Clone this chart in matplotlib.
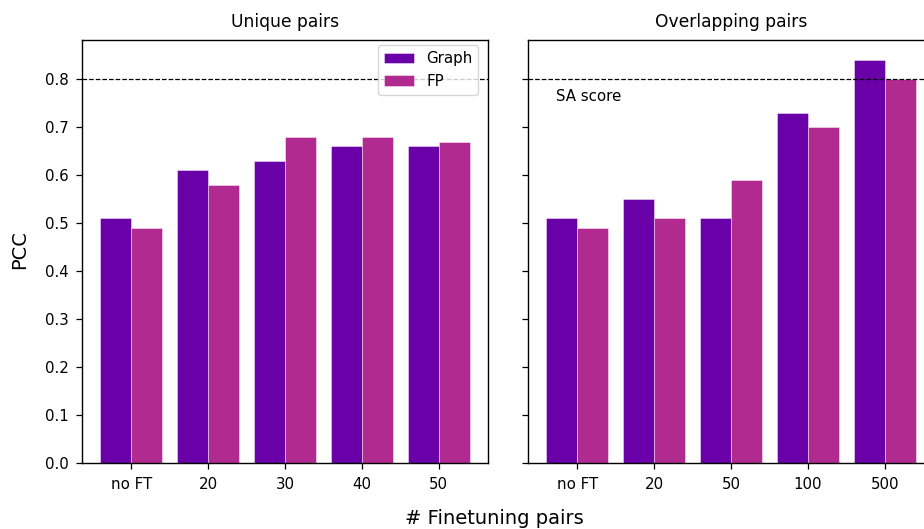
import matplotlib
matplotlib.use("Agg")
import matplotlib.pyplot as plt
import numpy as np

unique_cats = ["no FT", "20", "30", "40", "50"]
unique_graph = [0.51, 0.61, 0.63, 0.66, 0.66]
unique_fp = [0.49, 0.58, 0.68, 0.68, 0.67]

overlap_cats = ["no FT", "20", "50", "100", "500"]
overlap_graph = [0.51, 0.55, 0.51, 0.73, 0.84]
overlap_fp = [0.49, 0.51, 0.59, 0.70, 0.80]

sa_score = 0.8
c_graph = "#6a00a8"
c_fp = "#b12a90"

W, H = 924, 529
fig = plt.figure(figsize=(W / 100, H / 100), dpi=100)
axw = 406 / W
axh = 423 / H
bottom = (H - 463) / H
ax1 = fig.add_axes([82 / W, bottom, axw, axh])
ax2 = fig.add_axes([528 / W, bottom, axw, axh], sharey=ax1)

width = 0.4
for ax, cats, g, f, title in [
    (ax1, unique_cats, unique_graph, unique_fp, "Unique pairs"),
    (ax2, overlap_cats, overlap_graph, overlap_fp, "Overlapping pairs"),
]:
    x = np.arange(len(cats))
    ax.bar(x - width / 2, g, width, color=c_graph, label="Graph",
           edgecolor=(1, 1, 1, 0.5), linewidth=0.6)
    ax.bar(x + width / 2, f, width, color=c_fp, label="FP",
           edgecolor=(1, 1, 1, 0.5), linewidth=0.6)
    ax.axhline(sa_score, color="black", linestyle="--", linewidth=0.9)
    ax.set_xticks(x)
    ax.set_xticklabels(cats, fontsize=10.8)
    ax.set_title(title, fontsize=12.3, pad=9.5)
    ax.tick_params(axis="both", labelsize=10.8, length=4.3, pad=5.5, width=0.9)
    for s in ax.spines.values():
        s.set_linewidth(1.0)

ax2.tick_params(axis="y", labelleft=False)
ax2.text(-0.27, 0.765, "SA score", fontsize=10.8, ha="left", va="center")
ax1.legend(loc="upper right", fontsize=10.8, handlelength=2.0,
           bbox_to_anchor=(0.995, 1.005))
fig.text(20 / W, (H - 250) / H, "PCC", fontsize=14, ha="center", va="center", rotation=90)
fig.text(494 / W, 10 / H, "# Finetuning pairs", fontsize=14, ha="center", va="center")

fig.savefig("out.png", dpi=100)
